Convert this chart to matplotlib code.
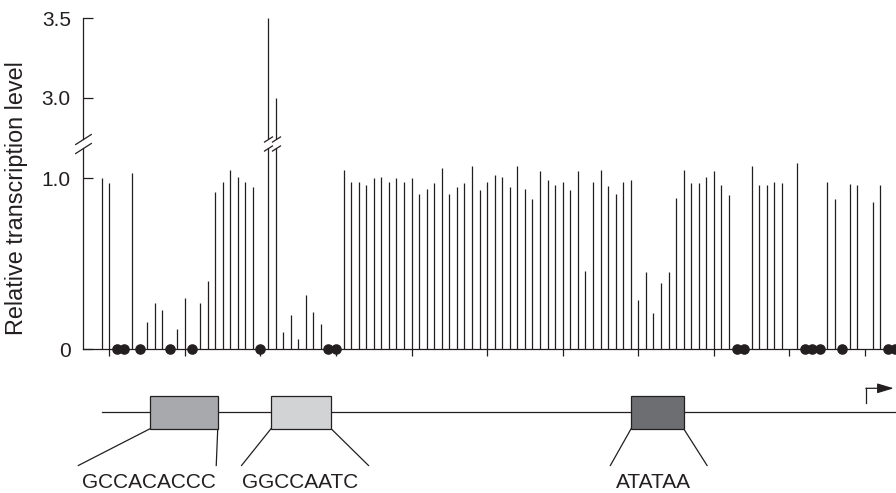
import numpy as np
import matplotlib
matplotlib.use("Agg")
import matplotlib.pyplot as plt
from matplotlib.patches import Rectangle

plt.rcParams['font.family'] = ['Liberation Sans', 'DejaVu Sans']

# sites, numbered from the first x tick; nan = no data, 0 = no transcription (dot)
positions = np.arange(-1, 105)
levels = np.array([
	1.00,                                                        # -1
	0.97, 0, 0, 1.03, 0, 0.16, 0.27, 0.23, 0, 0.12,              # 0-9
	0.30, 0, 0.27, 0.40, 0.92, 0.98, 1.05, 1.01, 0.98, 0.95,     # 10-19
	0, 3.50, 3.00, 0.10, 0.20, 0.06, 0.32, 0.22, 0.15, 0,        # 20-29
	0, 1.05, 0.98, 0.98, 0.96, 1.00, 1.01, 0.98, 1.00, 0.98,     # 30-39
	1.00, 0.91, 0.94, 0.97, 1.06, 0.91, 0.95, 0.97, 1.07, 0.93,  # 40-49
	0.98, 1.02, 1.01, 0.95, 1.07, 0.94, 0.88, 1.04, 0.99, 0.96,  # 50-59
	0.98, 0.93, 1.04, 0.46, 0.98, 1.05, 0.955, 0.91, 0.98, 0.99, # 60-69
	0.29, 0.45, 0.21, 0.39, 0.45, 0.885, 1.05, 0.97, 0.975, 1.01,# 70-79
	1.04, 0.96, 0.90, 0, 0, 1.07, 0.96, 0.96, 0.98, 0.97,        # 80-89
	np.nan, 1.09, 0, 0, 0, 0.98, 0.88, 0, 0.965, 0.96,           # 90-99
	np.nan, 0.86, 0.96, 0, 0,                                    # 100-104
])
xticks = np.arange(0, 101, 10)

motif_names = ["GCCACACCC", "GGCCAATC", "ATATAA"]
motif_start = [5.4, 21.4, 69.05]
motif_end = [14.35, 29.35, 76.0]
motif_colors = ["#a7a9ac", "#d1d3d4", "#6d6e71"]
tss = 100.1

K = "#231f20"
W, H = 896, 493

def box(l, t, r, b):
	return [l/W, 1 - b/H, (r - l)/W, (b - t)/H]

fig = plt.figure(figsize=(W/100, H/100), dpi=100)
ax_lo = fig.add_axes(box(83.3, 148, 896, 349.3))
ax_hi = fig.add_axes(box(83.3, 18.3, 896, 138.7), sharex=ax_lo)
ax_g = fig.add_axes(box(83.3, 380, 896, 493), sharex=ax_lo)

ax_lo.set_xlim(-3.44, 104.1)
ax_lo.set_ylim(0, 1.177)
ax_hi.set_ylim(2.742, 3.5)

has = ~np.isnan(levels)
bar = has & (levels > 0)
dot = has & (levels == 0)

for ax in (ax_lo, ax_hi):
	ax.vlines(positions[bar], 0, levels[bar], color=K, lw=0.9)
	for s in ("top", "right"):
		ax.spines[s].set_visible(False)
	ax.spines["left"].set_linewidth(0.9)
	ax.spines["left"].set_color(K)
	ax.tick_params(axis="y", direction="in", length=7.5, width=0.9, colors=K,
		labelsize=15, pad=9)
	ax.patch.set_alpha(0)

ax_lo.plot(positions[dot], levels[dot], "o", ms=6.6, color=K, clip_on=False, zorder=3)

ax_lo.set_yticks([0, 1.0], ["0", "1.0"])
ax_hi.set_yticks([3.0, 3.5], ["3.0", "3.5"])
ax_lo.set_xticks(xticks)
ax_lo.tick_params(axis="x", direction="out", length=5, width=0.9, colors=K, labelbottom=False)
ax_lo.spines["bottom"].set_linewidth(0.9)
ax_lo.spines["bottom"].set_color(K)
ax_hi.spines["bottom"].set_visible(False)
ax_hi.tick_params(axis="x", bottom=False, labelbottom=False)

# break marks on the axis and on the bars that run past the break
slash = [(-1, -0.64), (1, 0.64)]
ax_lo.plot([0], [1], transform=ax_lo.transAxes, marker=slash, ms=12, ls="none",
	color=K, mew=0.9, clip_on=False)
ax_hi.plot([0], [0], transform=ax_hi.transAxes, marker=slash, ms=12, ls="none",
	color=K, mew=0.9, clip_on=False)
tall = bar & (levels > ax_lo.get_ylim()[1])
for ax, yy in ((ax_lo, 1), (ax_hi, 0)):
	ax.plot(positions[tall], [yy]*tall.sum(), transform=ax.get_xaxis_transform(),
		marker=slash, ms=6.5, ls="none", color=K, mew=0.9, clip_on=False)

fig.text(16.7/W, 1 - 198.3/H, "Relative transcription level", rotation=90,
	ha="center", va="center", fontsize=16.8, color=K)

# promoter diagram
def gy(px):
	return (493 - px)/113

ax_g.set_ylim(0, 1)
ax_g.axis("off")
ax_g.plot([positions[0] + 0.07, 104.1], [gy(412.3)]*2, color=K, lw=0.9)
leader_l = [-4.1, 17.5, 66.3]
leader_r = [14.15, 34.3, 79.1]
label_x = [5.28, 25.27, 72.06]
for name, a, b, c, ll, lr, lx in zip(motif_names, motif_start, motif_end, motif_colors,
		leader_l, leader_r, label_x):
	ax_g.add_patch(Rectangle((a, gy(428.7)), b - a, gy(396) - gy(428.7), fc=c, ec=K,
		lw=0.9, zorder=3))
	ax_g.plot([a, ll], [gy(428.7), gy(465.5)], color=K, lw=0.9, clip_on=False)
	ax_g.plot([b, lr], [gy(428.7), gy(465.5)], color=K, lw=0.9, clip_on=False)
	ax_g.text(lx, gy(488), name, ha="center", va="baseline", fontsize=15, color=K)

ax_g.plot([tss, tss], [gy(402.7), gy(388.3)], color=K, lw=0.9)
ax_g.annotate("", xy=(103.8, gy(388.3)), xytext=(tss, gy(388.3)),
	arrowprops=dict(arrowstyle="-|>,head_length=1.0,head_width=0.3", color=K, lw=0.9,
		shrinkA=0, shrinkB=0, mutation_scale=10), annotation_clip=False)

fig.savefig("out.png", dpi=100)
